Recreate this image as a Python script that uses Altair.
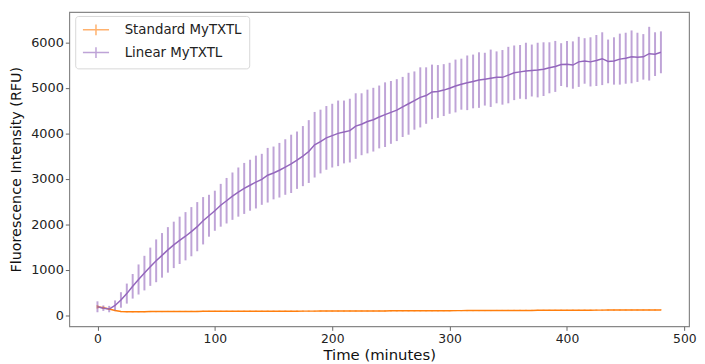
import altair as alt
import pandas as pd

time_min = list(range(0, 481, 5))

linear_mean = [190, 160, 140, 220, 340, 480, 640, 790, 930, 1070,
               1200, 1320, 1440, 1550, 1650, 1740, 1840, 1950, 2080, 2190,
               2300, 2420, 2520, 2620, 2710, 2790, 2860, 2930, 2990, 3080,
               3130, 3190, 3260, 3330, 3410, 3500, 3600, 3750, 3820, 3900,
               3950, 4000, 4030, 4060, 4160, 4200, 4260, 4300, 4360, 4410,
               4460, 4510, 4580, 4650, 4720, 4790, 4830, 4910, 4920, 4950,
               4990, 5040, 5080, 5110, 5140, 5170, 5190, 5210, 5230, 5230,
               5280, 5330, 5350, 5370, 5380, 5390, 5410, 5440, 5470, 5510,
               5520, 5500, 5570, 5590, 5570, 5600, 5640, 5580, 5590, 5630,
               5650, 5680, 5670, 5680, 5750, 5740, 5780]

linear_err = [120, 60, 70, 110, 170, 220, 270, 330, 380, 420,
              470, 490, 500, 510, 520, 530, 540, 540, 520, 460,
              440, 470, 500, 520, 540, 560, 560, 580, 560, 600,
              580, 600, 610, 640, 630, 660, 690, 720, 700, 700,
              700, 720, 690, 700, 720, 680, 700, 700, 690, 710,
              690, 680, 660, 680, 640, 660, 620, 600, 580, 570,
              560, 580, 560, 600, 590, 610, 580, 630, 570, 600,
              620, 600, 590, 620, 570, 600, 590, 560, 560, 470,
              510, 520, 550, 500, 540, 560, 580, 480, 520, 560,
              560, 580, 540, 500, 590, 480, 460]

standard_mean = [190, 170, 140, 110, 85, 82, 80, 82, 83, 85,
                 85, 86, 87, 88, 88, 88, 89, 89, 90, 90,
                 90, 90, 91, 91, 91, 92, 92, 92, 92, 93,
                 93, 93, 94, 94, 94, 95, 95, 95, 96, 96,
                 96, 97, 97, 98, 98, 98, 99, 99, 100, 100,
                 101, 101, 102, 102, 103, 103, 104, 104, 104, 105,
                 105, 106, 106, 107, 107, 108, 108, 108, 109, 109,
                 110, 110, 111, 111, 111, 112, 112, 113, 113, 114,
                 114, 115, 115, 116, 116, 117, 117, 118, 118, 118,
                 119, 119, 120, 120, 121, 121, 122]

standard_err = [40, 25, 20, 15] + [12] * 93

series_names = ["Standard MyTXTL", "Linear MyTXTL"]
series_colors = ["#ff7f0e", "#9467bd"]

rows = []
for t, m, e in zip(time_min, standard_mean, standard_err):
    rows.append({"time": t, "mean": m, "lo": m - e, "hi": m + e, "series": series_names[0]})
for t, m, e in zip(time_min, linear_mean, linear_err):
    rows.append({"time": t, "mean": m, "lo": m - e, "hi": m + e, "series": series_names[1]})
df = pd.DataFrame(rows)

FONT = "DejaVu Sans"

x_enc = alt.X("time:Q",
              scale=alt.Scale(domain=[-24, 504], nice=False, zero=False),
              axis=alt.Axis(values=[0, 100, 200, 300, 400, 500], title="Time (minutes)",
                            titleFontSize=15, titlePadding=3, format="d",
                            labelFontSize=12.5))
y_scale = alt.Scale(domain=[-240, 6665], nice=False, zero=False)
legend = alt.Legend(title=None, orient="none", legendX=6, legendY=4,
                    symbolType="M-2.2,0H2.2M0,-0.9V0.9",
                    symbolSize=144, symbolStrokeWidth=1.5,
                    symbolOffset=7, labelOffset=22,
                    labelFontSize=13.5, labelFont=FONT, labelColor="#222",
                    rowPadding=5, padding=7,
                    fillColor="white", strokeColor="#d8d8d8",
                    cornerRadius=3)
color_enc = alt.Color("series:N",
                      scale=alt.Scale(domain=series_names, range=series_colors),
                      legend=legend)

bars = alt.Chart(df).mark_rule(strokeWidth=2, opacity=0.6).encode(
    x=x_enc,
    y=alt.Y("lo:Q", scale=y_scale),
    y2="hi:Q",
    color=color_enc,
)

lines = alt.Chart(df).mark_line(strokeWidth=1.5).encode(
    x=x_enc,
    y=alt.Y("mean:Q", scale=y_scale,
            axis=alt.Axis(values=[0, 1000, 2000, 3000, 4000, 5000, 6000], format="d",
                          title="Fluorescence Intensity (RFU)", titleFontSize=14.5,
                          titlePadding=7)),
    color=color_enc,
)

chart = alt.layer(lines, bars).resolve_legend(color="shared").properties(
    width=627, height=318,
    autosize=alt.AutoSizeParams(type="none"),
    padding={"left": 62, "top": 2, "right": 8, "bottom": 36},
).configure_view(
    stroke="#888", strokeWidth=1.2
).configure_axis(
    grid=False, domain=False, labelFont=FONT, titleFont=FONT,
    labelFontSize=13, labelColor="#222", titleColor="#111",
    titleFontWeight="normal", tickSize=4, tickColor="#666", labelPadding=2,
)

chart.save("out.html", embed_options={"renderer": "svg", "actions": False})
